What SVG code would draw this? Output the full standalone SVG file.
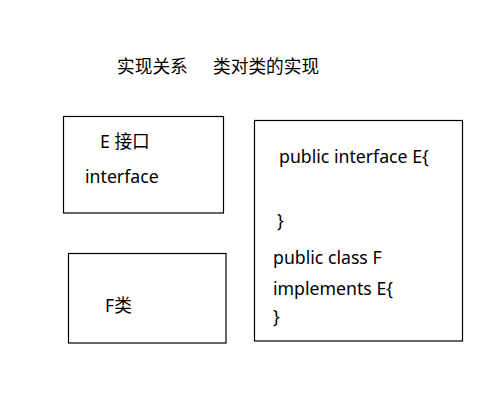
<svg xmlns="http://www.w3.org/2000/svg" width="498" height="408" viewBox="0 0 498 408">
<style>
.box{fill:#fff;stroke:#000;stroke-width:1.2}
text{font-family:"Noto Sans","Noto Sans CJK SC",sans-serif;font-size:17.7px;fill:#000}
</style>
<rect width="498" height="408" fill="#fff"/>
<g id="title">
<text x="117" y="73">实现关系</text>
<text x="213" y="73">类对类的实现</text>
</g>
<g id="nodeE">
<rect class="box" x="63.5" y="116.5" width="160" height="96.5"/>
<text x="100" y="148">E 接口</text>
<text x="85" y="183">interface</text>
</g>
<g id="nodeF">
<rect class="box" x="68.5" y="253.5" width="157.5" height="89.5"/>
<text x="105" y="312">F类</text>
</g>
<g id="nodeCode">
<rect class="box" x="254.5" y="120.5" width="208" height="220.5"/>
<text x="279" y="163">public interface E{</text>
<text x="277" y="227">}</text>
<text x="273" y="264">public class F</text>
<text x="273" y="295">implements E{</text>
<text x="273" y="323">}</text>
</g>
<g id="connectors"></g>
</svg>
